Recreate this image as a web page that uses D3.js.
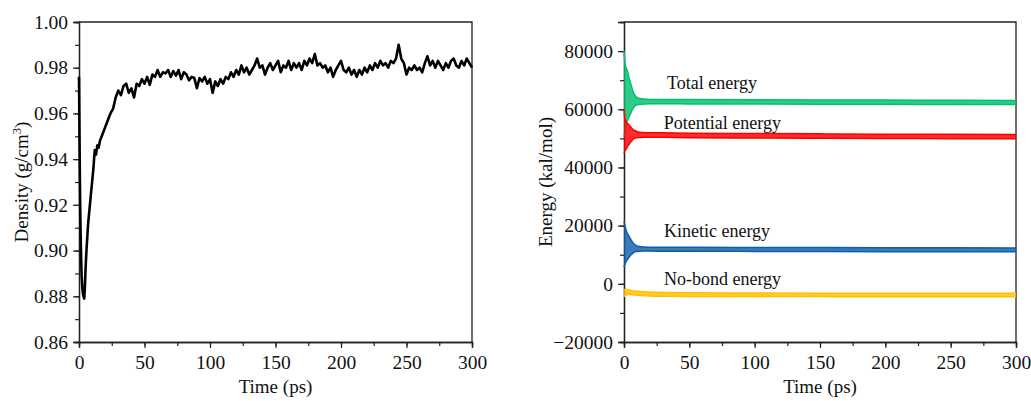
<!DOCTYPE html>
<html>
<head>
<meta charset="utf-8">
<script src="https://cdn.jsdelivr.net/npm/d3@7"></script>
<style>
  body { margin: 0; background: #fff; }
  svg { display: block; }
  text { font-family: "Liberation Serif", "Times New Roman", serif; fill: #111; }
</style>
</head>
<body>
<svg id="chart" width="1031" height="401"></svg>
<script>
// ---- density data ----
var densityEarlyTime = [0, 0.3, 0.7, 1, 1.5, 2, 2.5, 3, 3.5, 4, 4.5, 5, 5.5, 6, 7, 8, 9, 10, 11, 12, 13, 14, 15];
var densityEarly = [0.976, 0.955, 0.930, 0.915, 0.900, 0.889, 0.884, 0.881, 0.880, 0.879, 0.884, 0.892, 0.898,
                    0.903, 0.912, 0.918, 0.924, 0.930, 0.936, 0.944, 0.942, 0.946, 0.945];
// every 2 ps from 16 ps to 300 ps
var densityLate = [
  0.948,0.951,0.954,0.957,0.960,0.962,0.967,0.970,0.968,0.972,
  0.973,0.969,0.971,0.967,0.973,0.972,0.975,0.973,0.976,0.9725,
  0.977,0.976,0.979,0.976,0.978,0.9775,0.979,0.976,0.9785,0.9765,
  0.979,0.975,0.978,0.977,0.9745,0.976,0.9755,0.971,0.9755,0.974,
  0.976,0.973,0.975,0.969,0.974,0.972,0.975,0.973,0.976,0.975,
  0.978,0.976,0.979,0.977,0.981,0.978,0.980,0.977,0.979,0.981,
  0.984,0.980,0.981,0.977,0.980,0.982,0.979,0.981,0.983,0.978,
  0.981,0.980,0.983,0.979,0.982,0.980,0.982,0.979,0.983,0.981,
  0.984,0.982,0.986,0.981,0.982,0.980,0.981,0.978,0.980,0.976,
  0.979,0.981,0.983,0.979,0.978,0.980,0.977,0.979,0.976,0.979,
  0.977,0.980,0.978,0.981,0.979,0.982,0.980,0.983,0.981,0.982,
  0.980,0.983,0.982,0.984,0.990,0.984,0.982,0.977,0.980,0.979,
  0.981,0.979,0.980,0.978,0.982,0.985,0.981,0.983,0.980,0.983,
  0.981,0.979,0.982,0.980,0.983,0.984,0.981,0.980,0.983,0.981,
  0.984,0.982,0.980
];

// ---- energy data: band envelopes (upper / lower) ----
var energyTime = [0, 0.5, 1, 2, 3, 4, 5, 6, 7, 8, 10, 12, 15, 20, 30, 50, 100, 150, 200, 250, 300];
var totalUpper = [80000,77000,75000,74000,72500,70500,69000,67500,66000,65000,64000,63700,63500,63400,63400,63350,63250,63200,63150,63100,63050];
var totalLower = [50500,52000,54000,55500,56500,57500,58500,59500,60300,61000,61500,61700,61850,61900,61900,61850,61800,61750,61700,61650,61600];
var potUpper   = [60000,57500,56500,55500,55000,54500,54000,53500,53000,52700,52300,52100,52000,51950,51900,51750,51650,51550,51450,51400,51350];
var potLower   = [45000,45500,46000,46500,47500,48000,48700,49200,49700,50000,50200,50300,50400,50400,50350,50200,50100,50000,49950,49900,49850];
var kinUpper   = [21500,20500,19500,18000,17000,16200,15400,14700,14000,13600,13000,12800,12650,12600,12550,12550,12500,12450,12400,12400,12350];
var kinLower   = [5800,6500,7000,8000,8600,9200,9800,10200,10600,10900,11100,11200,11250,11250,11200,11200,11150,11100,11050,11050,11000];
var nbUpper    = [-2000,-2000,-1900,-1900,-2000,-2100,-2200,-2300,-2400,-2450,-2550,-2650,-2700,-2850,-3000,-3100,-3150,-3200,-3200,-3200,-3250];
var nbLower    = [-4400,-4200,-4000,-3800,-3600,-3600,-3700,-3750,-3800,-3850,-3900,-3950,-4000,-4150,-4250,-4350,-4400,-4400,-4450,-4450,-4450];

var seriesNames = ["Total energy", "Potential energy", "Kinetic energy", "No-bond energy"];
var seriesColors = ["#00c16e", "#ff0000", "#0d5fa8", "#ffc000"];

var densityTicks = [0.86, 0.88, 0.90, 0.92, 0.94, 0.96, 0.98, 1.00];
var energyTicks = [-20000, 0, 20000, 40000, 60000, 80000];
var timeTicks = [0, 50, 100, 150, 200, 250, 300];

var svg = d3.select("#chart");
var top_ = 22, bottom = 342;
var serif = "'Liberation Serif','Times New Roman',serif";

function frame(g, x, y) {
  var x0 = x.range()[0], x1 = x.range()[1];
  g.append("path")
    .attr("d", "M" + x0 + "," + top_ + "H" + x1 + "V" + bottom)
    .attr("fill", "none").attr("stroke", "#222").attr("stroke-width", 1.3);
}

function styleAxis(g) {
  g.attr("font-family", serif).attr("font-size", 19.5);
  g.selectAll(".domain").attr("stroke", "#222").attr("stroke-width", 1.3);
  g.selectAll(".tick line").attr("stroke", "#222").attr("stroke-width", 1.2);
  g.selectAll(".tick text").attr("fill", "#111").style("font-family", serif).style("font-size", "19.5px");
}

function axes(x, y, yTicks, yMinorStep, fmt) {
  var minorX = d3.range(0, 301, 25);
  var minorY = d3.range(y.domain()[0], y.domain()[1] + 1e-9, yMinorStep);

  // minor ticks in their own groups
  var mx = svg.append("g").attr("transform", "translate(0," + bottom + ")")
    .call(d3.axisBottom(x).tickValues(minorX).tickSize(4).tickFormat(""));
  var my = svg.append("g").attr("transform", "translate(" + x.range()[0] + ",0)")
    .call(d3.axisLeft(y).tickValues(minorY).tickSize(4).tickFormat(""));

  var gx = svg.append("g").attr("transform", "translate(0," + bottom + ")")
    .call(d3.axisBottom(x).tickValues(timeTicks).tickSize(6).tickPadding(7).tickFormat(d3.format("d")));
  var gy = svg.append("g").attr("transform", "translate(" + x.range()[0] + ",0)")
    .call(d3.axisLeft(y).tickValues(yTicks).tickSize(6).tickPadding(5).tickFormat(fmt));

  [mx, my, gx, gy].forEach(styleAxis);

  svg.append("text")
    .attr("x", (x.range()[0] + x.range()[1]) / 2).attr("y", 393)
    .attr("text-anchor", "middle").style("font-size", "19px")
    .text("Time (ps)");
}

// ---------- left: density ----------
var xL = d3.scaleLinear().domain([0, 300]).range([79, 472]);
var yL = d3.scaleLinear().domain([0.86, 1.00]).range([bottom, top_]);

var density = densityEarly.map(function(v, i){ return {t: densityEarlyTime[i], v: v}; })
  .concat(densityLate.map(function(v, i){ return {t: 16 + 2 * i, v: v}; }));

frame(svg.append("g"), xL, yL);
axes(xL, yL, densityTicks, 0.01, d3.format(".2f"));

svg.append("path")
  .datum(density)
  .attr("fill", "none")
  .attr("stroke", "#000")
  .attr("stroke-width", 2.6)
  .attr("stroke-linejoin", "round")
  .attr("d", d3.line().x(function(d){ return xL(d.t); }).y(function(d){ return yL(d.v); }));

var dTitle = svg.append("text")
  .attr("transform", "translate(28," + ((top_ + bottom) / 2) + ") rotate(-90)")
  .attr("text-anchor", "middle").style("font-size", "19px");
dTitle.append("tspan").text("Density (g/cm");
dTitle.append("tspan").attr("dy", -7).style("font-size", "12.5px").text("3");
dTitle.append("tspan").attr("dy", 7).text(")");

// ---------- right: energy ----------
var xR = d3.scaleLinear().domain([0, 300]).range([624, 1016]);
var yR = d3.scaleLinear().domain([-20000, 90000]).range([bottom, top_]);

frame(svg.append("g"), xR, yR);
axes(xR, yR, energyTicks, 10000, d3.format("d"));

var bands = [[totalUpper, totalLower], [potUpper, potLower], [kinUpper, kinLower], [nbUpper, nbLower]];

bands.forEach(function(b, k){
  var rows = energyTime.map(function(t, i){ return {t: t, hi: b[0][i], lo: b[1][i]}; });
  var area = d3.area().curve(d3.curveMonotoneX)
    .x(function(d){ return xR(d.t); })
    .y0(function(d){ return yR(d.lo); })
    .y1(function(d){ return yR(d.hi); });
  svg.append("path").datum(rows)
    .attr("fill", seriesColors[k]).attr("fill-opacity", 0.82)
    .attr("d", area);
  [area.lineY0(), area.lineY1()].forEach(function(edge){
    svg.append("path").datum(rows)
      .attr("fill", "none").attr("stroke", seriesColors[k]).attr("stroke-width", 1.5)
      .attr("d", edge);
  });
});

// labels
var labelPos = [[33, 67000], [30.5, 53300], [30.6, 16100], [30.6, -350]];
seriesNames.forEach(function(name, k){
  svg.append("text")
    .attr("x", xR(labelPos[k][0])).attr("y", yR(labelPos[k][1]))
    .style("font-size", "18px")
    .text(name);
});

svg.append("text")
  .attr("transform", "translate(552," + ((top_ + bottom) / 2) + ") rotate(-90)")
  .attr("text-anchor", "middle").style("font-size", "19px")
  .text("Energy (kal/mol)");
</script>
</body>
</html>
